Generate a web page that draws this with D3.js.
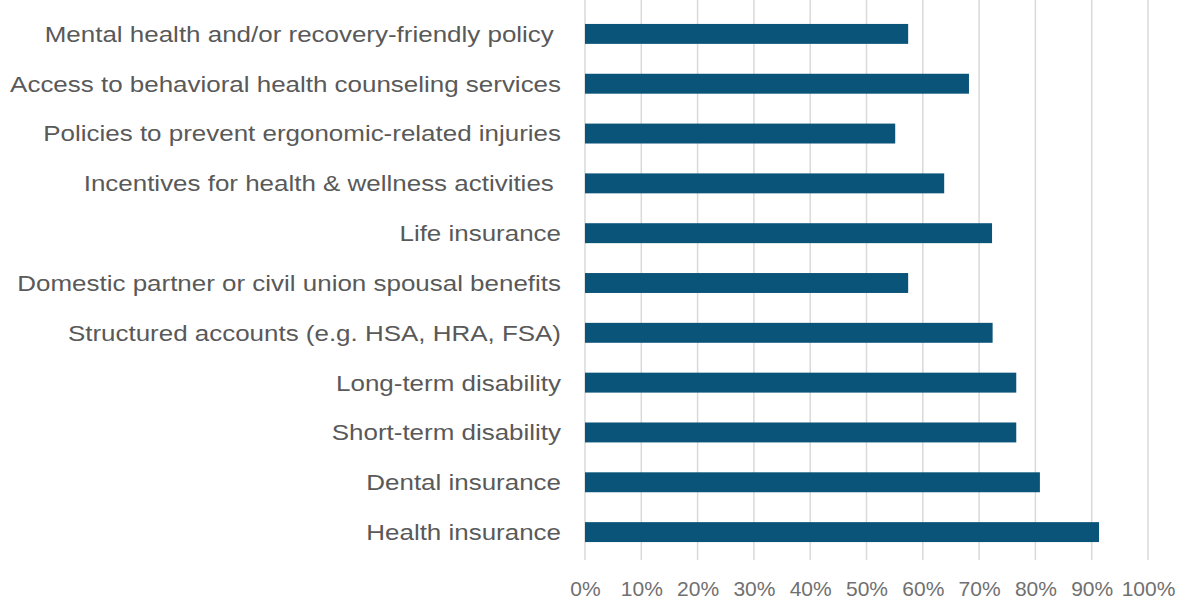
<!DOCTYPE html>
<html>
<head>
<meta charset="utf-8">
<script src="https://cdn.jsdelivr.net/npm/d3@7"></script>
<style>
  body { margin: 0; background: #fff; }
  svg { display: block; }
</style>
</head>
<body>
<svg id="chart" width="1184" height="604"></svg>
<script>
// data, top to bottom
const categories = [
  "Mental health and/or recovery-friendly policy ",
  "Access to behavioral health counseling services",
  "Policies to prevent ergonomic-related injuries",
  "Incentives for health & wellness activities ",
  "Life insurance",
  "Domestic partner or civil union spousal benefits",
  "Structured accounts (e.g. HSA, HRA, FSA)",
  "Long-term disability",
  "Short-term disability",
  "Dental insurance",
  "Health insurance"
];
const values = [57.4, 68.2, 55.1, 63.8, 72.3, 57.4, 72.4, 76.6, 76.6, 80.8, 91.3];
const xTicks = [0, 10, 20, 30, 40, 50, 60, 70, 80, 90, 100];

const svg = d3.select("#chart");
const plotLeft = 585, plotRight = 1148;
const plotTop = 9, plotBottom = 557;

const x = d3.scaleLinear().domain([0, 100]).range([plotLeft, plotRight]);
const y = d3.scaleBand().domain(categories).range([plotTop, plotBottom]).paddingInner(0.6).paddingOuter(0.3);

// vertical gridlines
svg.append("g")
  .selectAll("line")
  .data(xTicks)
  .join("line")
  .attr("x1", d => x(d)).attr("x2", d => x(d))
  .attr("y1", 0).attr("y2", 560)
  .attr("stroke", "#d9d9d9")
  .attr("stroke-width", 1.5);

// bars
svg.append("g")
  .selectAll("rect")
  .data(values)
  .join("rect")
  .attr("x", x(0))
  .attr("y", (d, i) => y(categories[i]))
  .attr("width", d => x(d) - x(0))
  .attr("height", y.bandwidth())
  .attr("fill", "#0b5479");

// category labels (source is stretched horizontally a bit)
svg.append("g")
  .selectAll("text")
  .data(categories)
  .join("text")
  .attr("transform", d => `translate(561,${y(d) + y.bandwidth() / 2}) scale(1.18,1)`)
  .attr("text-anchor", "end")
  .attr("dy", "0.36em")
  .attr("font-family", "'Liberation Sans', Arial, sans-serif")
  .attr("font-size", 22)
  .attr("fill", "#595959")
  .style("white-space", "pre")
  .text(d => d);

// x axis labels
const xAxis = d3.axisBottom(x)
  .tickValues(xTicks)
  .tickFormat(d => d + "%")
  .tickSize(0)
  .tickPadding(0);

const gx = svg.append("g")
  .attr("transform", "translate(0,581)")
  .call(xAxis);
gx.select(".domain").remove();
gx.selectAll("text")
  .attr("font-family", "'Liberation Sans', Arial, sans-serif")
  .attr("font-size", 21)
  .attr("fill", "#707070");
</script>
</body>
</html>
